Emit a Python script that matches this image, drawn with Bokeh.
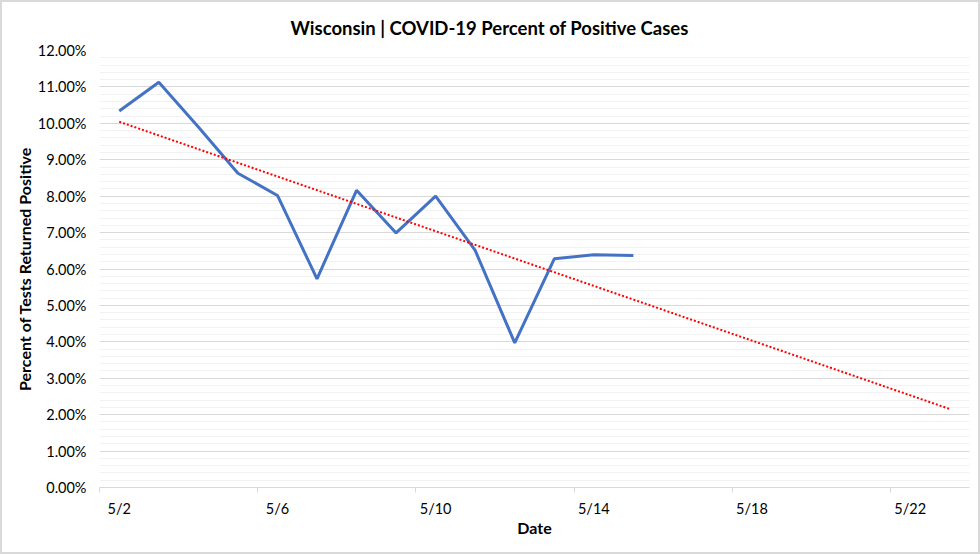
import numpy as np
from bokeh.plotting import figure
from bokeh.models import FixedTicker, PrintfTickFormatter, Range1d, ColumnDataSource
from bokeh.embed import file_html
from bokeh.resources import INLINE

# ---- data ----
dates = ["5/2", "5/3", "5/4", "5/5", "5/6", "5/7", "5/8", "5/9", "5/10", "5/11",
         "5/12", "5/13", "5/14", "5/15"]
positive_pct = [10.34, 11.13, 9.90, 8.63, 8.02, 5.73, 8.16, 6.99, 8.00, 6.51,
                3.97, 6.28, 6.39, 6.37]
axis_dates = ["5/2", "5/3", "5/4", "5/5", "5/6", "5/7", "5/8", "5/9", "5/10", "5/11",
              "5/12", "5/13", "5/14", "5/15", "5/16", "5/17", "5/18", "5/19", "5/20",
              "5/21", "5/22", "5/23"]
label_dates = ["5/2", "5/6", "5/10", "5/14", "5/18", "5/22"]
y_ticks = [0, 1, 2, 3, 4, 5, 6, 7, 8, 9, 10, 11, 12]
title_text = "Wisconsin | COVID-19 Percent of Positive Cases"

FONT = "Lato"

idx = np.arange(len(dates))
slope, intercept = np.polyfit(idx, positive_pct, 1)
trend_x = np.array([0, len(axis_dates) - 1])
trend_y = intercept + slope * trend_x

p = figure(width=980, height=554, output_backend="svg", toolbar_location=None,
           x_range=Range1d(-0.5, len(axis_dates) - 0.5), y_range=Range1d(0, 12),
           min_border_left=97, min_border_right=13, min_border_top=48, min_border_bottom=69)
p.styles = {"border": "2px solid #d9d9d9"}
p.background_fill_color = "white"
p.border_fill_color = "white"
p.outline_line_color = None

p.title.text = title_text
p.title.align = "left"
p.title.offset = 191
p.title.vertical_align = "top"
p.title.text_font = FONT
p.title.text_font_size = "18.5px"
p.title.text_font_style = "bold"
p.title.text_color = "#000000"
p.title.standoff = 20

src = ColumnDataSource(dict(x=idx, y=positive_pct, d=dates))
p.line("x", "y", source=src, line_color="#4472C4", line_width=3)
p.line(trend_x, trend_y, line_color="#FF0000", line_width=2, line_dash="2 2")

label_pos = [axis_dates.index(d) for d in label_dates]
xt = FixedTicker(ticks=label_pos, minor_ticks=[v - 0.5 for v in label_pos])
p.xaxis.ticker = xt
p.xaxis.major_label_overrides = {i: d for i, d in zip(label_pos, label_dates)}
p.xaxis.axis_line_color = "#d9d9d9"
p.xaxis.major_tick_line_color = None
p.xaxis.minor_tick_line_color = "#d9d9d9"
p.xaxis.minor_tick_out = 5
p.xaxis.minor_tick_in = 0
p.xaxis.major_tick_out = 0
p.xaxis.major_tick_in = 0
p.xaxis.major_label_standoff = 7
p.xaxis.axis_label = "Date"
p.xaxis.axis_label_standoff = -2
p.xgrid.grid_line_color = None

yt = FixedTicker(ticks=y_ticks, minor_ticks=[round(v * 0.2, 1) for v in range(0, 61)])
p.yaxis.ticker = yt
p.yaxis.formatter = PrintfTickFormatter(format="%.2f%%")
p.yaxis.axis_line_color = None
p.yaxis.major_tick_line_color = None
p.yaxis.minor_tick_line_color = None
p.yaxis.major_label_standoff = 7
p.yaxis.axis_label = "Percent of Tests Returned Positive"
p.yaxis.axis_label_standoff = 1
p.ygrid.grid_line_color = "#d9d9d9"
p.ygrid.grid_line_width = 1
p.ygrid.minor_grid_line_color = "#f2f2f2"
p.ygrid.minor_grid_line_width = 1

for ax in (p.xaxis, p.yaxis):
    ax.major_label_text_font = FONT
    ax.major_label_text_font_size = "14.5px"
    ax.major_label_text_color = "#000000"
    ax.axis_label_text_font = FONT
    ax.axis_label_text_font_size = "16px"
    ax.axis_label_text_font_style = "bold"
    ax.axis_label_text_color = "#000000"

open("out.html", "w").write(file_html(p, INLINE))
